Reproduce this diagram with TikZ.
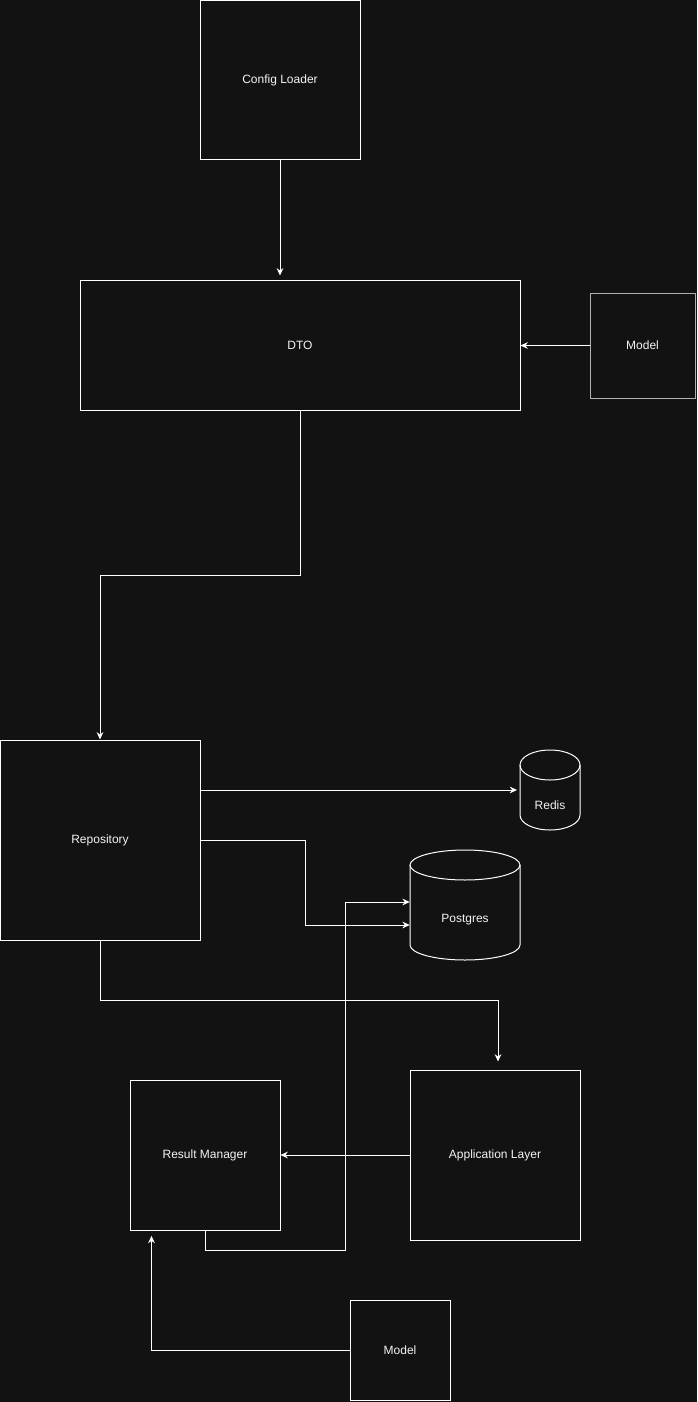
\documentclass[tikz,border=0pt]{standalone}
\usepackage{fontspec}
\setmainfont{Liberation Sans}
\usetikzlibrary{arrows.meta,calc}
\definecolor{bg}{HTML}{121212}
\definecolor{fg}{HTML}{F4F4F4}
\definecolor{edge}{HTML}{FFFFFF}
\definecolor{greyedge}{HTML}{B0B0B0}
\begin{document}
\begin{tikzpicture}[x=0.75pt,y=-0.75pt,
  box/.style={draw=edge, line width=0.75pt, fill=bg, text=fg, font=\fontsize{9pt}{11pt}\selectfont, inner sep=0pt},
  cyl/.style={draw=none, text=fg, font=\fontsize{9pt}{11pt}\selectfont, inner sep=0pt},
  outline/.style={draw=edge, line width=0.75pt},
  arr/.style={draw=edge, line width=0.75pt, -{Stealth[length=5.5pt,width=5pt]}}
]
\fill[bg] (0,0) rectangle (697,1402);
\useasboundingbox (0,0) rectangle (697,1402);

\node[box, minimum width=160*0.75pt, minimum height=159*0.75pt] (cfg) at (280,80.5) {Config Loader};
\node[box, minimum width=440*0.75pt, minimum height=130*0.75pt] (dto) at (300,345) {DTO};
\node[box, draw=greyedge, minimum width=105*0.75pt, minimum height=105*0.75pt] (m1) at (642.5,345.5) {Model};
\node[box, minimum width=200*0.75pt, minimum height=200*0.75pt] (repo) at (100,840) {Repository};
\node[box, minimum width=170*0.75pt, minimum height=170*0.75pt] (app) at (495,1155) {Application Layer};
\node[box, minimum width=150*0.75pt, minimum height=150*0.75pt] (rm) at (205,1155) {Result Manager};
\node[box, minimum width=100*0.75pt, minimum height=100*0.75pt] (m2) at (400,1350) {Model};

% Redis cylinder
\draw[outline] (580,765) -- (580,815) arc[start angle=0, end angle=180, x radius=30, y radius=15] -- (520,765);
\draw[outline] (550,765) ellipse [x radius=30, y radius=15];
\node[cyl, minimum width=60*0.75pt, minimum height=80*0.75pt] (redis) at (550,790) {};
\node[cyl] (redislbl) at (550,805) {Redis};

% Postgres cylinder
\draw[outline] (520,865) -- (520,945) arc[start angle=0, end angle=180, x radius=55, y radius=15] -- (410,865);
\draw[outline] (465,865) ellipse [x radius=55, y radius=15];
\node[cyl, minimum width=110*0.75pt, minimum height=110*0.75pt] (pg) at (465,905) {};
\node[cyl] (pglbl) at (465,920) {Postgres};

% connectors
\draw[arr, shorten >=3pt] (cfg.south) -- (cfg.south |- dto.north);
\draw[arr] (m1.west) -- (m1.west -| dto.east);
\draw[arr] (dto.south) -- ++(0,165) -| (repo.north);
\draw[arr, shorten >=2pt] (repo.east |- redis.west) -- (redis.west);
\draw[arr] (repo.east) -- ++(105,0) |- ($(pg.west)+(0,20)$);
\draw[arr, shorten >=6pt] (repo.south) -- ++(0,60) -| ($(app.north)+(3,0)$);
\draw[arr] (app.west) -- (rm.east);
\draw[arr] (rm.south) -- ++(0,20) -| (345,902) -- ($(pg.west)+(0,-3)$);
\draw[arr, shorten >=4pt] (m2.west) -| ($(rm.south west)+(22,0)$);
\end{tikzpicture}
\end{document}
